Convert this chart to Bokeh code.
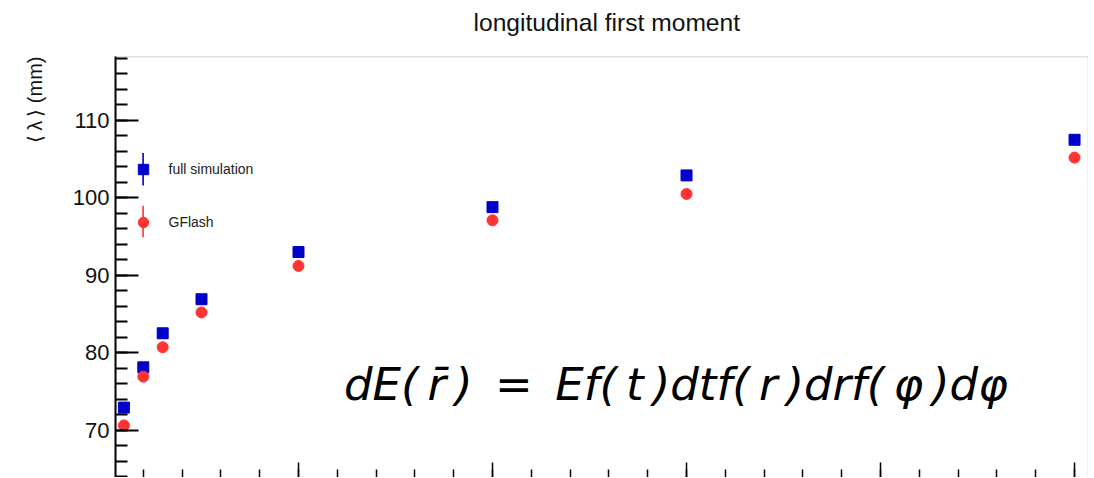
import math
from bokeh.plotting import figure
from bokeh.models import (Range1d, SingleIntervalTicker, Label, Legend, LegendItem,
                          BoxAnnotation, ColumnDataSource, Title, LinearAxis)
from bokeh.embed import file_html
from bokeh.resources import INLINE

# ---- data ----
energies = [1, 2, 3, 5, 10, 20, 30, 50]
full_simulation = [72.9, 78.1, 82.5, 86.9, 93.0, 98.8, 102.9, 107.5]
gflash = [70.6, 76.9, 80.7, 85.2, 91.2, 97.1, 100.5, 105.2]
series_labels = ["full simulation", "GFlash"]
title_text = "longitudinal first moment"
y_label_text = "\u27e8\u2009\u03bb\u2009\u27e9 (mm)"
TS = "\u2009"
formula_text = ("dE(" + TS + "r\u0304" + TS + ")\u2002=\u2002Ef(" + TS + "t" + TS + ")"
                "dtf(" + TS + "r" + TS + ")drf(" + TS + "\u03c6" + TS + ")d\u03c6")

BLUE = "#0000c8"
RED = "#ff3333"
FONT = "Liberation Sans"

src = ColumnDataSource(dict(e=energies, full=full_simulation, gf=gflash))

p = figure(frame_width=973, frame_height=421,
           x_range=Range1d(0.567, 50.72), y_range=Range1d(63.87, 118.26),
           output_backend="svg", toolbar_location=None, title=None,
           min_border=0, min_border_left=114, min_border_top=56,
           min_border_right=0, min_border_bottom=0)
p.background_fill_color = "white"
p.border_fill_color = "white"
p.outline_line_color = None
p.xgrid.visible = False
p.ygrid.visible = False

# x axis: inward ticks only, labels and axis line are cut off in the reference
p.xaxis.ticker = SingleIntervalTicker(interval=10, num_minor_ticks=5)
p.xaxis.major_tick_in = 15
p.xaxis.major_tick_out = 0
p.xaxis.minor_tick_in = 8
p.xaxis.minor_tick_out = 0
p.xaxis.major_label_text_font_size = "1px"
p.xaxis.major_label_text_color = None
p.xaxis.major_label_text_alpha = 0
p.xaxis.major_label_standoff = 0
p.xaxis.axis_line_color = None
p.xaxis.major_tick_line_color = "black"
p.xaxis.minor_tick_line_color = "black"
p.xaxis.major_tick_line_width = 1.5
p.xaxis.minor_tick_line_width = 1.5

# y axis
p.yaxis.ticker = SingleIntervalTicker(interval=10, num_minor_ticks=5)
p.yaxis.major_tick_in = 23
p.yaxis.major_tick_out = 0
p.yaxis.minor_tick_in = 12
p.yaxis.minor_tick_out = 0
p.yaxis.axis_line_width = 2
p.yaxis.major_tick_line_width = 2
p.yaxis.minor_tick_line_width = 2
p.yaxis.major_label_text_font = FONT
p.yaxis.major_label_text_font_size = "22px"
p.yaxis.major_label_text_color = "#111111"
p.yaxis.major_label_standoff = 6

# invisible spacer axis above the frame (pushes the title upward)
spacer = LinearAxis(major_tick_out=20, major_tick_in=0, minor_tick_out=0, minor_tick_in=0,
                    major_tick_line_color=None, minor_tick_line_color=None,
                    axis_line_color=None, major_label_text_font_size="1px",
                    major_label_text_color=None, major_label_text_alpha=0,
                    major_label_standoff=0)
p.add_layout(spacer, "above")

# top and right frame edges (bottom edge lies outside the picture)
p.add_layout(BoxAnnotation(left=0, right=973, top=421, bottom=-30,
                           left_units="screen", right_units="screen",
                           top_units="screen", bottom_units="screen",
                           fill_alpha=0, line_color="#333333", line_width=1.5))

r_full = p.scatter(x="e", y="full", source=src, marker="square", size=11,
                   fill_color=BLUE, line_color=BLUE)
r_gf = p.scatter(x="e", y="gf", source=src, marker="circle", size=11,
                 fill_color=RED, line_color=RED)

legend = Legend(items=[LegendItem(label=series_labels[0], renderers=[r_full]),
                       LegendItem(label=series_labels[1], renderers=[r_gf])],
                location=(14.5, 242), glyph_width=26, glyph_height=26,
                label_height=26, spacing=27, padding=0, margin=0,
                label_standoff=13, border_line_color=None,
                background_fill_alpha=0, label_text_font=FONT,
                label_text_font_size="14px", label_text_color="#222222")
p.add_layout(legend)

# legend error bars (screen units, relative to frame)
for top, bottom, col in [(324.5, 292.0, BLUE), (271.8, 240.2, RED)]:
    p.add_layout(BoxAnnotation(left=26.8, right=28.4, top=top, bottom=bottom,
                               left_units="screen", right_units="screen",
                               top_units="screen", bottom_units="screen",
                               fill_color=col, fill_alpha=1, line_alpha=0))

p.add_layout(Title(text=title_text, align="left", offset=358, text_font=FONT,
                   text_font_size="24.6px", text_font_style="normal",
                   text_color="#111111", standoff=2), "above")
p.add_layout(Title(text=y_label_text, align="right", vertical_align="middle",
                   text_font=FONT, text_font_size="20px", text_font_style="normal",
                   text_color="#111111", standoff=45), "left")

p.add_layout(Label(x=228.5, y=93, x_units="screen", y_units="screen",
                   text=formula_text, text_font="DejaVu Sans", text_font_style="italic",
                   text_font_size="45px", text_align="left",
                   text_baseline="alphabetic", text_color="black"))

open("out.html", "w").write(file_html(p, INLINE))
